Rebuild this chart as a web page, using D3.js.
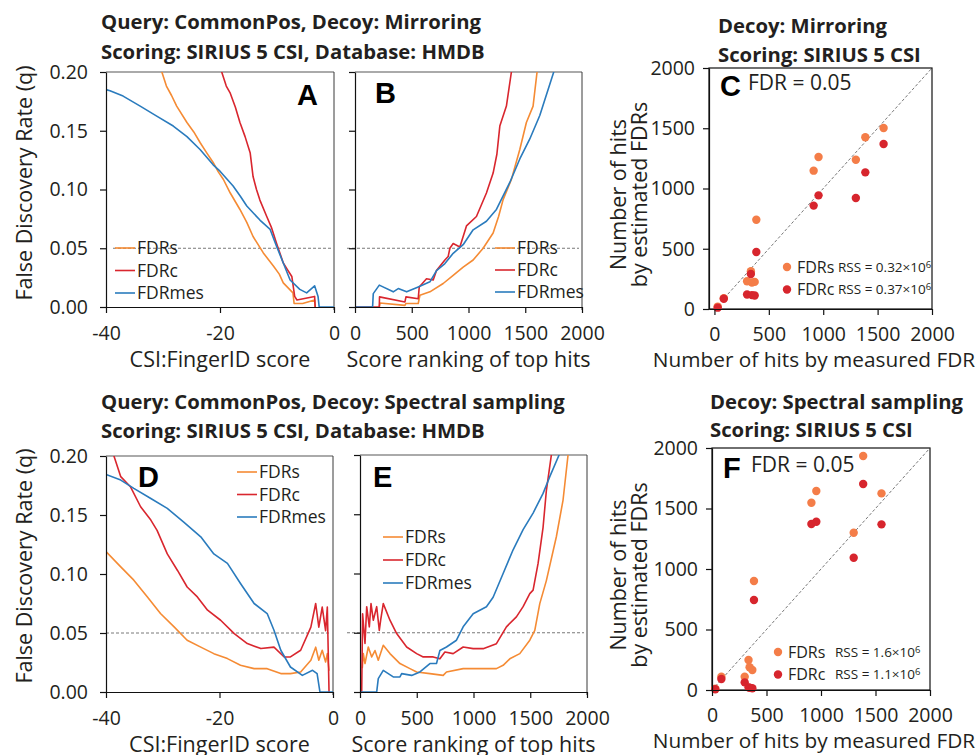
<!DOCTYPE html>
<html>
<head>
  <meta charset='utf-8'>
  <title>FDR comparison</title>
  <script src='https://cdn.jsdelivr.net/npm/d3@7/dist/d3.min.js'></script>
  <style type='text/css'>
    body { margin: 0; background: #fff; }
    svg text { font-family: 'Open Sans', sans-serif; fill: #231f20; }
    .title { font-weight: 700; font-size: 20.3px; }
    .letter { font-family: 'Liberation Sans', Arial, sans-serif !important; font-weight: 700; font-size: 29px; fill: #000 !important; }
  </style>
</head>
<body>
<svg id='fig' width='978' height='755'></svg>
<script>
// tick values and labels
const fdrTicks = [0, 0.05, 0.10, 0.15, 0.20];
const scoreTicks = [-40, -20, 0];
const rankTicks = [0, 500, 1000, 1500, 2000];
const hitTicks = [0, 500, 1000, 1500, 2000];
const lineSeriesNames = ['FDRs', 'FDRc', 'FDRmes'];
const lineColors = ['#f58b34', '#d9262e', '#2a7bbd'];
const dotColors = ['#f47d48', '#d7252d'];

// panel A: q vs CSI:FingerID score (mirroring decoys)
const aFdrs = [[-30.6, 0.21], [-30.2, 0.2], [-29.4, 0.188], [-28.5, 0.18], [-27.6, 0.171], [-25.8, 0.157],
  [-24.6, 0.149], [-23.5, 0.14], [-22.3, 0.131], [-21.2, 0.123], [-20.3, 0.115], [-19.4, 0.1085], [-18.2, 0.097],
  [-16.5, 0.083], [-15.3, 0.072], [-14.2, 0.060], [-12.4, 0.046], [-10.6, 0.0347], [-9.6, 0.028], [-8.9, 0.0205],
  [-7.2, 0.012], [-7.0, 0.003], [-5.5, 0.003], [-3.4, 0.006], [-3.3, 0]];
const aFdrc = [[-19.9, 0.21], [-19.7, 0.2], [-18.9, 0.188], [-18.2, 0.182], [-17.3, 0.17], [-16.5, 0.157],
  [-15.6, 0.145], [-14.7, 0.131], [-14.2, 0.111], [-13.6, 0.1], [-13, 0.091], [-11.8, 0.077], [-11.0, 0.068],
  [-10.1, 0.0545], [-8.9, 0.0375], [-8.2, 0.032], [-7.4, 0.026], [-6.9, 0.009], [-6.5, 0.006], [-3.4, 0.009], [-3.3, 0]];
const aFdrmes = [[-40, 0.185], [-39.3, 0.184], [-37, 0.1795], [-34, 0.171], [-31.1, 0.1625], [-28.2, 0.154],
  [-25.8, 0.145], [-23.5, 0.134], [-21.2, 0.121], [-20, 0.1156], [-17.7, 0.103], [-16.4, 0.094], [-15.3, 0.086],
  [-13, 0.074], [-11.2, 0.066], [-10.1, 0.052], [-8.9, 0.0375], [-7.7, 0.023], [-6, 0.015], [-4.8, 0.012],
  [-3.4, 0.018], [-2.8, 0.009], [-2.6, 0], [0, 0]];

// panel B: q vs score ranking (mirroring decoys)
const bFdrs = [[214, 0], [220, 0.0034], [440, 0.0014], [449, 0.003], [557, 0.003], [572, 0.01], [660, 0.0129],
  [777, 0.02], [865, 0.027], [953, 0.034], [1041, 0.04], [1129, 0.05], [1217, 0.063], [1265, 0.077], [1305, 0.0914],
  [1378, 0.1086], [1452, 0.134], [1510, 0.157], [1569, 0.171], [1604, 0.2], [1610, 0.21]];
const bFdrc = [[0, 0], [214, 0], [216, 0.0086], [440, 0.0043], [449, 0.0086], [557, 0.007], [566, 0.017],
  [630, 0.024], [689, 0.023], [718, 0.031], [792, 0.04], [821, 0.043], [836, 0.05], [865, 0.054], [924, 0.051],
  [982, 0.069], [1070, 0.077], [1158, 0.097], [1217, 0.114], [1250, 0.13], [1276, 0.154], [1334, 0.171],
  [1378, 0.2], [1382, 0.21]];
const bFdrmes = [[0, 0], [155, 0], [161, 0.0114], [214, 0.0186], [337, 0.0129], [381, 0.0157], [455, 0.0129],
  [557, 0.017], [660, 0.0214], [718, 0.031], [792, 0.037], [865, 0.0457], [953, 0.053], [1041, 0.0657],
  [1158, 0.073], [1246, 0.083], [1364, 0.106], [1452, 0.126], [1540, 0.143], [1628, 0.163], [1751, 0.2], [1760, 0.21]];

// panel D: q vs CSI:FingerID score (spectral sampling decoys)
const dFdrs = [[-40, 0.119], [-37.4, 0.106], [-35.1, 0.0948], [-32.7, 0.0806], [-30.4, 0.0665], [-28, 0.0552],
  [-25.7, 0.0438], [-23.3, 0.038], [-21, 0.0325], [-18.6, 0.0283], [-16.3, 0.0226], [-13.9, 0.0198],
  [-11.6, 0.0198], [-9.2, 0.0156], [-7.5, 0.0156], [-5.7, 0.017], [-3.9, 0.0269], [-3.05, 0.038], [-2.5, 0.0269],
  [-1.9, 0.0354], [-1.3, 0.0255], [-1, 0.0325], [-0.7, 0.018]];
const dFdrc = [[-38.8, 0.21], [-38.6, 0.2], [-37.4, 0.1825], [-35.7, 0.174], [-33.9, 0.157], [-32.1, 0.1457],
  [-31, 0.137], [-29.2, 0.117], [-27.4, 0.103], [-25.7, 0.089], [-23.9, 0.0806], [-22.1, 0.0693], [-19.8, 0.0608],
  [-17.4, 0.0495], [-15.1, 0.041], [-12.7, 0.0368], [-10.4, 0.038], [-8.6, 0.0297], [-7.5, 0.0297], [-5.7, 0.0354],
  [-3.9, 0.055], [-3.05, 0.075], [-2.5, 0.055], [-1.9, 0.072], [-1.3, 0.052], [-1, 0.072], [-0.7, 0]];
const dFdrmes = [[-40, 0.1844], [-37.4, 0.1796], [-35.1, 0.1726], [-32.1, 0.164], [-29.2, 0.1556], [-26.3, 0.144],
  [-23.3, 0.1315], [-21, 0.117], [-18.6, 0.109], [-16.3, 0.092], [-13.9, 0.075], [-11.6, 0.0665], [-10.4, 0.0523],
  [-9.2, 0.0354], [-7.5, 0.0212], [-5.4, 0.0141], [-3.6, 0.0184], [-2.8, 0.0156], [-2.3, 0], [0, 0]];

// panel E: q vs score ranking (spectral sampling decoys)
const eFdrs = [[20, 0.02], [29, 0.0324], [44, 0.024], [73, 0.038], [103, 0.0296], [132, 0.035], [161, 0.0268],
  [205, 0.0394], [264, 0.0324], [352, 0.024], [440, 0.0197], [499, 0.0169], [616, 0.0155], [733, 0.014],
  [762, 0.0169], [909, 0.0197], [1056, 0.0197], [1202, 0.0197], [1261, 0.0225], [1320, 0.028], [1408, 0.0324],
  [1496, 0.0437], [1540, 0.052], [1584, 0.0746], [1642, 0.094], [1730, 0.131], [1789, 0.162], [1833, 0.2], [1836, 0.21]];
const eFdrc = [[15, 0], [23, 0.066], [44, 0.041], [59, 0.072], [82, 0.055], [97, 0.0746], [117, 0.0606],
  [147, 0.072], [170, 0.052], [182, 0.0606], [205, 0.0746], [264, 0.0606], [323, 0.0493], [411, 0.038],
  [499, 0.0324], [557, 0.0296], [645, 0.0296], [704, 0.028], [748, 0.0338], [821, 0.0324], [909, 0.038],
  [997, 0.0366], [1085, 0.0366], [1202, 0.0408], [1290, 0.055], [1378, 0.0634], [1437, 0.072], [1496, 0.083],
  [1525, 0.086], [1569, 0.1085], [1613, 0.139], [1642, 0.17], [1686, 0.2], [1690, 0.21]];
const eFdrmes = [[0, 0], [147, 0], [161, 0.0113], [205, 0.0183], [293, 0.0127], [352, 0.0127], [367, 0.0155],
  [455, 0.014], [528, 0.0169], [616, 0.024], [674, 0.024], [704, 0.035], [762, 0.038], [850, 0.0437], [909, 0.055],
  [997, 0.066], [1114, 0.072], [1173, 0.08], [1261, 0.1], [1349, 0.12], [1437, 0.137], [1525, 0.151],
  [1613, 0.1676], [1672, 0.1817], [1754, 0.2], [1760, 0.21]];

// panels C and F: hits at FDR = 0.05
const measuredHits = [30, 86, 300, 335, 345, 370, 385, 912, 957, 1300, 1387, 1555];
const cFdrsHits = [20, 90, 230, 313, 220, 225, 741, 1148, 1261, 1239, 1425, 1502];
const cFdrcHits = [11, 85, 120, 290, 115, 112, 473, 858, 943, 921, 1134, 1369];
const fFdrsHits = [10, 110, 110, 248, 188, 165, 901, 1548, 1645, 1300, 1934, 1625];
const fFdrcHits = [6, 91, 63, 22, 18, 14, 744, 1372, 1391, 1093, 1702, 1369];

const svg = d3.select('#fig');

function styleAxis(sel, fontSize) {
    sel.attr('font-family', null).attr('font-size', null);
    sel.selectAll('path, line').attr('stroke', '#111').attr('stroke-width', 1.2);
    sel.selectAll('text').style('font-size', fontSize + 'px');
}

// line panel with q on the y axis
function drawLinePanel(p) {
    const x = d3.scaleLinear().domain(p.xDomain).range(p.xRange);
    const y = d3.scaleLinear().domain([0, 0.2]).range(p.yRange);
    const g = svg.append('g');
    const clipId = 'clip-' + p.letter;
    svg.append('clipPath').attr('id', clipId).append('rect')
        .attr('x', p.xRange[0]).attr('y', p.yRange[1])
        .attr('width', p.xRange[1] - p.xRange[0])
        .attr('height', p.yRange[0] - p.yRange[1]);

    // frame: grey top, dark right
    g.append('line')
        .attr('x1', p.xRange[0]).attr('x2', p.xRange[1])
        .attr('y1', y(0.2)).attr('y2', y(0.2))
        .attr('stroke', '#8e8e8e').attr('stroke-width', 1.6);
    g.append('line')
        .attr('x1', p.xRange[1]).attr('x2', p.xRange[1])
        .attr('y1', y(0.2)).attr('y2', y(0) + 3)
        .attr('stroke', '#3a3a3a').attr('stroke-width', 1);

    // q = 0.05 reference
    g.append('line')
        .attr('x1', p.xRange[0] + p.dashStart).attr('x2', p.xRange[1] - 3)
        .attr('y1', y(0.05)).attr('y2', y(0.05))
        .attr('stroke', '#555').attr('stroke-width', 0.8)
        .attr('stroke-dasharray', '3,2');

    const line = d3.line().x(d => x(d[0])).y(d => y(d[1]));
    const lines = g.append('g').attr('clip-path', `url(#${clipId})`);
    p.series.forEach((s, i) => {
        lines.append('path')
            .attr('d', line(s))
            .attr('fill', 'none')
            .attr('stroke', lineColors[i])
            .attr('stroke-width', 1.6)
            .attr('stroke-linejoin', 'round');
    });

    const yAxis = d3.axisLeft(y).tickValues(fdrTicks).tickSize(6).tickSizeOuter(0).tickPadding(12)
        .tickFormat(p.yLabels ? d3.format('.2f') : '');
    g.append('g').attr('transform', `translate(${p.xRange[0]},0)`).call(yAxis).call(styleAxis, 19.5);

    const xAxis = d3.axisBottom(x).tickValues(p.xTicks).tickSize(6).tickSizeOuter(0).tickPadding(13)
        .tickFormat(d => String(d));
    g.append('g').attr('transform', `translate(0,${p.yRange[0]})`).call(xAxis).call(styleAxis, 19.5);

    g.append('text')
        .attr('x', (p.xRange[0] + p.xRange[1]) / 2).attr('y', p.yRange[0] + 60)
        .attr('text-anchor', 'middle').style('font-size', '21.5px')
        .text(p.xTitle);

    // legend
    lineSeriesNames.forEach((name, i) => {
        const ly = p.legend.y + i * p.legend.step;
        g.append('line')
            .attr('x1', p.legend.x).attr('x2', p.legend.x + 20)
            .attr('y1', ly).attr('y2', ly)
            .attr('stroke', lineColors[i]).attr('stroke-width', 1.6);
        g.append('text')
            .attr('x', p.legend.x + 22).attr('y', ly).attr('dy', '0.36em')
            .style('font-size', '17.5px')
            .text(name);
    });

    g.append('text').attr('class', 'letter')
        .attr('x', p.letterPos[0]).attr('y', p.letterPos[1])
        .text(p.letter);
}

// scatter panel of hit counts
function drawScatterPanel(p) {
    const x = d3.scaleLinear().domain(p.xDomain).range(p.xRange);
    const y = d3.scaleLinear().domain([0, 2000]).range(p.yRange);
    const g = svg.append('g');

    g.append('rect')
        .attr('x', p.xRange[0]).attr('y', p.yRange[1])
        .attr('width', p.xRange[1] - p.xRange[0])
        .attr('height', p.yRange[0] - p.yRange[1])
        .attr('fill', 'none').attr('stroke', '#111').attr('stroke-width', 1.2);

    g.append('line')
        .attr('x1', x(0)).attr('y1', y(0))
        .attr('x2', x(2000)).attr('y2', y(2000))
        .attr('stroke', '#555').attr('stroke-width', 0.8)
        .attr('stroke-dasharray', '3,2');

    [p.fdrs, p.fdrc].forEach((vals, i) => {
        g.append('g').selectAll('circle')
            .data(vals)
            .enter()
            .append('circle')
            .attr('cx', (d, j) => x(measuredHits[j]))
            .attr('cy', d => y(d))
            .attr('r', 4.2)
            .attr('fill', dotColors[i]);
    });

    const yAxis = d3.axisLeft(y).tickValues(hitTicks).tickSize(6).tickSizeOuter(0).tickPadding(8)
        .tickFormat(d => String(d));
    g.append('g').attr('transform', `translate(${p.xRange[0]},0)`).call(yAxis).call(styleAxis, 19.5);
    const xAxis = d3.axisBottom(x).tickValues(hitTicks).tickSize(6).tickSizeOuter(0).tickPadding(12)
        .tickFormat(d => String(d));
    g.append('g').attr('transform', `translate(0,${p.yRange[0]})`).call(xAxis).call(styleAxis, 19.5);

    g.append('text')
        .attr('x', 814).attr('y', p.yRange[0] + 58)
        .attr('text-anchor', 'middle').style('font-size', '20.8px')
        .text('Number of hits by measured FDR');
    const cy = (p.yRange[0] + p.yRange[1]) / 2 + 6;
    g.append('text')
        .attr('transform', `translate(626,${cy}) rotate(-90)`)
        .attr('text-anchor', 'middle').style('font-size', '21.5px')
        .text('Number of hits');
    g.append('text')
        .attr('transform', `translate(647,${cy}) rotate(-90)`)
        .attr('text-anchor', 'middle').style('font-size', '21.5px')
        .text('by estimated FDRs');

    g.append('text').attr('class', 'letter')
        .attr('x', p.letterPos[0]).attr('y', p.letterPos[1])
        .text(p.letter);
    g.append('text')
        .attr('x', p.letterPos[0] + 28).attr('y', p.letterPos[1] - 6)
        .style('font-size', '21px')
        .text('FDR = 0.05');

    ['FDRs', 'FDRc'].forEach((name, i) => {
        const ly = p.legend.y + i * 22.5;
        g.append('circle')
            .attr('cx', p.legend.x).attr('cy', ly).attr('r', 4.2)
            .attr('fill', dotColors[i]);
        g.append('text')
            .attr('x', p.legend.x + 10).attr('y', ly).attr('dy', '0.36em')
            .style('font-size', '16px').text(name);
        const rss = g.append('text')
            .attr('x', p.legend.rssX).attr('y', ly).attr('dy', '0.36em')
            .style('font-size', '13.5px');
        rss.append('tspan').text(p.rss[i]);
        rss.append('tspan').attr('dy', '-0.45em').style('font-size', '9.5px').text('6');
    });
}

function drawTitle(lines, x, y0, y1) {
    svg.append('text').attr('class', 'title').attr('x', x).attr('y', y0).text(lines[0]);
    svg.append('text').attr('class', 'title').attr('x', x).attr('y', y1).text(lines[1]);
}

// y axis titles for the line panels
[183, 566].forEach(cy => {
    svg.append('text')
        .attr('transform', `translate(32,${cy}) rotate(-90)`)
        .attr('text-anchor', 'middle').style('font-size', '21.5px')
        .text('False Discovery Rate (q)');
});

drawTitle(['Query: CommonPos, Decoy: Mirroring', 'Scoring: SIRIUS 5 CSI, Database: HMDB'], 101, 29, 59);
drawTitle(['Decoy: Mirroring', 'Scoring: SIRIUS 5 CSI'], 718, 33, 62);
drawTitle(['Query: CommonPos, Decoy: Spectral sampling', 'Scoring: SIRIUS 5 CSI, Database: HMDB'], 101, 409, 438);
drawTitle(['Decoy: Spectral sampling', 'Scoring: SIRIUS 5 CSI'], 710, 409, 437);

drawLinePanel({
    letter: 'A', letterPos: [297, 105],
    xDomain: [-40, 0], xRange: [106, 334], yRange: [307, 72],
    xTicks: scoreTicks, yLabels: true, dashStart: 7,
    xTitle: 'CSI:FingerID score',
    series: [aFdrs, aFdrc, aFdrmes],
    legend: { x: 115, y: 248, step: 22.5 }
});
drawLinePanel({
    letter: 'B', letterPos: [375, 103],
    xDomain: [0, 2000], xRange: [355, 582], yRange: [307, 72],
    xTicks: rankTicks, yLabels: false, dashStart: -8,
    xTitle: 'Score ranking of top hits',
    series: [bFdrs, bFdrc, bFdrmes],
    legend: { x: 495, y: 248, step: 22 }
});
drawLinePanel({
    letter: 'D', letterPos: [138, 487],
    xDomain: [-40, 0], xRange: [106, 333], yRange: [692, 456],
    xTicks: scoreTicks, yLabels: true, dashStart: 0,
    xTitle: 'CSI:FingerID score',
    series: [dFdrs, dFdrc, dFdrmes],
    legend: { x: 237, y: 472, step: 22.5 }
});
drawLinePanel({
    letter: 'E', letterPos: [373, 487],
    xDomain: [0, 2000], xRange: [360, 587], yRange: [692, 455],
    xTicks: rankTicks, yLabels: false, dashStart: -13,
    xTitle: 'Score ranking of top hits',
    series: [eFdrs, eFdrc, eFdrmes],
    legend: { x: 383, y: 537, step: 23 }
});
drawScatterPanel({
    letter: 'C', letterPos: [720, 96],
    xDomain: [-50, 2000], xRange: [709, 932], yRange: [309, 68],
    fdrs: cFdrsHits, fdrc: cFdrcHits,
    rss: ['RSS = 0.32×10', 'RSS = 0.37×10'],
    legend: { x: 787, y: 267, rssX: 838 }
});
drawScatterPanel({
    letter: 'F', letterPos: [723, 478],
    xDomain: [0, 2000], xRange: [712, 930], yRange: [690, 448],
    fdrs: fFdrsHits, fdrc: fFdrcHits,
    rss: ['RSS = 1.6×10', 'RSS = 1.1×10'],
    legend: { x: 778, y: 652, rssX: 835 }
});
</script>
</body>
</html>
